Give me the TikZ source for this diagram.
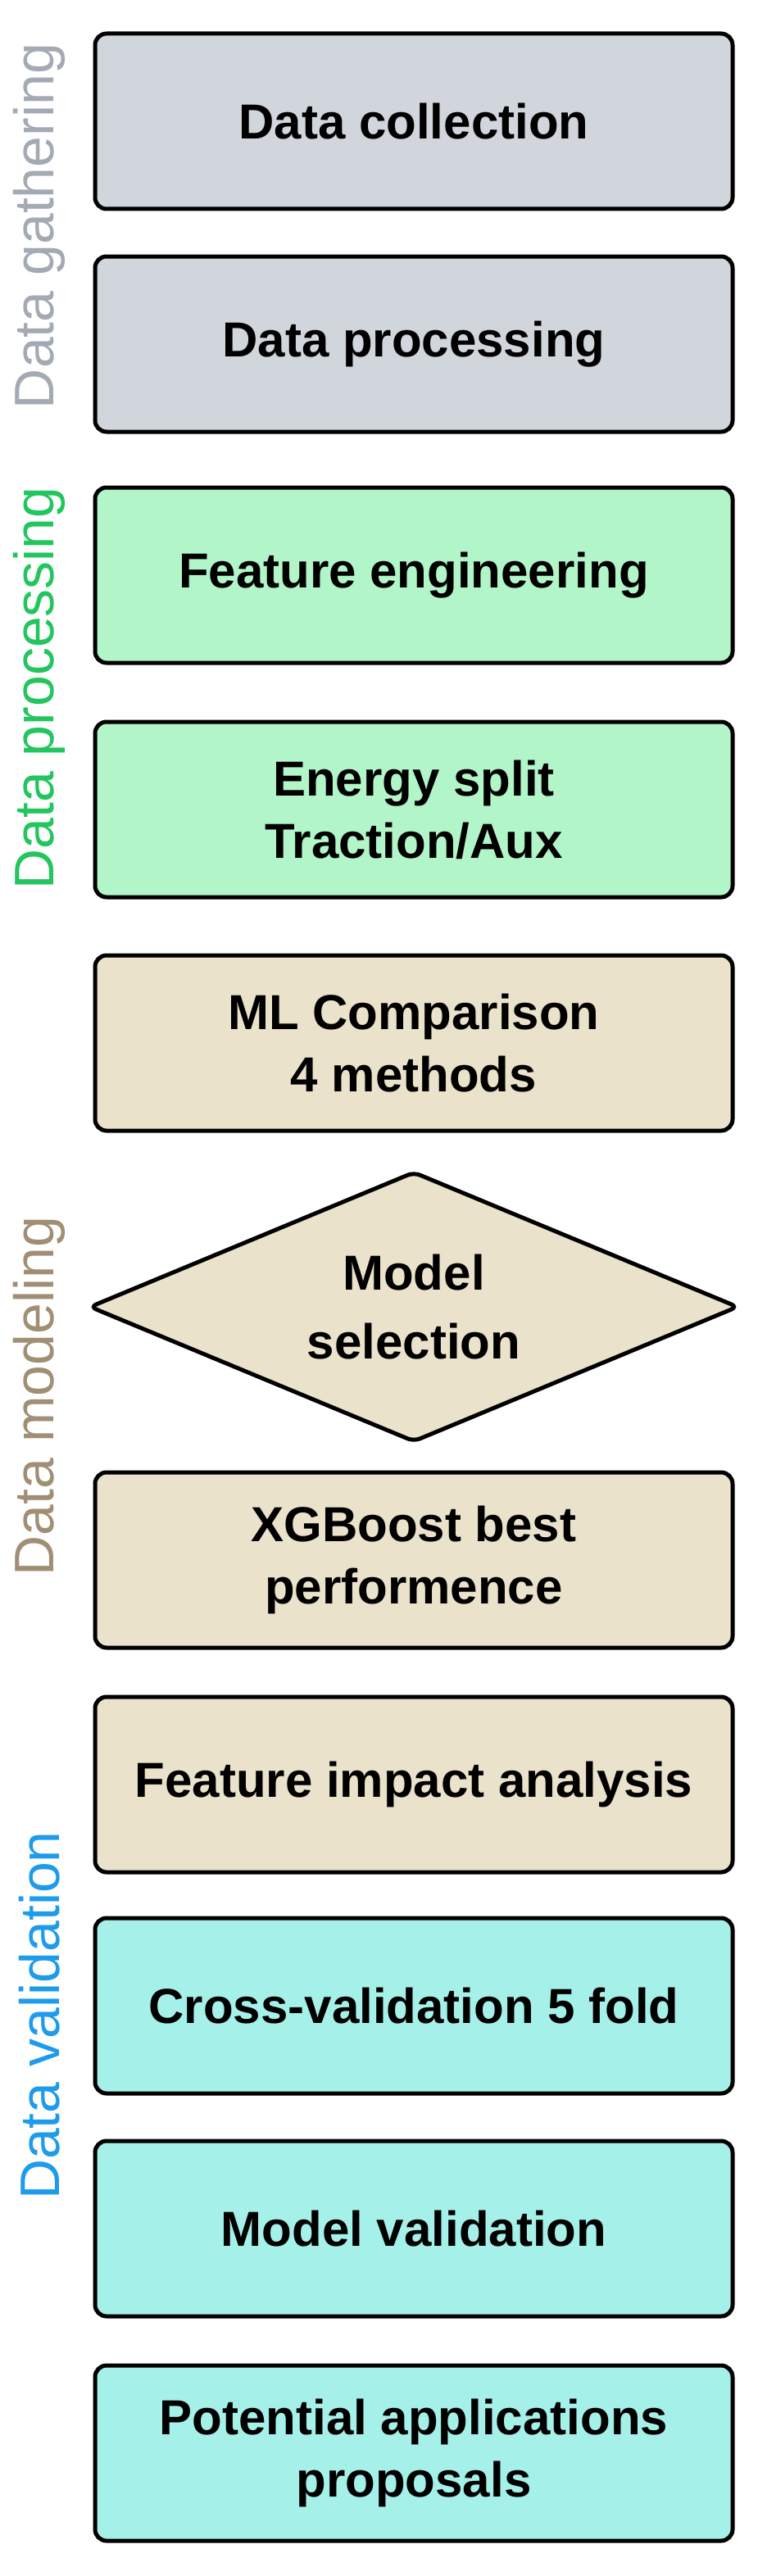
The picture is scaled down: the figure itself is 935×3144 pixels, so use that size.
\documentclass[tikz,border=0pt]{standalone}
\usepackage{fontspec}
\setmainfont{Liberation Sans}
\usetikzlibrary{shapes.geometric}
\definecolor{cgray}{HTML}{D1D5DC}
\definecolor{cgreen}{HTML}{B2F5C9}
\definecolor{ctan}{HTML}{EBE2CB}
\definecolor{ccyan}{HTML}{A6F0EA}
\definecolor{lgray}{HTML}{A3AAB3}
\definecolor{lgreen}{HTML}{22C55E}
\definecolor{ltan}{HTML}{A08F74}
\definecolor{lblue}{HTML}{1E9BEA}
\begin{document}
\begin{tikzpicture}[x=1pt,y=-1pt,
  box/.style={draw=black,line width=5pt,rounded corners=14pt,minimum width=778pt,minimum height=214pt,align=center,font=\fontsize{60}{76}\selectfont\bfseries,inner sep=0pt},
  dia/.style={draw=black,line width=5pt,diamond,aspect=2.4,minimum width=792pt,minimum height=330pt,align=center,font=\fontsize{60}{84}\selectfont\bfseries,inner sep=0pt,rounded corners=8pt},
  side/.style={rotate=90,font=\fontsize{68}{76}\selectfont,anchor=center}]
\useasboundingbox (0,0) rectangle (935,3144);
\node[box,fill=cgray] (a) at (505,148) {Data collection};
\node[box,fill=cgray] (b) at (505,420) {Data processing};
\node[box,fill=cgreen] (c) at (505,702) {Feature engineering};
\node[box,fill=cgreen] (d) at (505,988) {Energy split\\Traction/Aux};
\node[box,fill=ctan] (e) at (505,1273) {ML Comparison\\4 methods};
\node[dia,fill=ctan] (f) at (505,1595) {Model\\selection};
\node[box,fill=ctan] (g) at (505,1904) {XGBoost best\\performence};
\node[box,fill=ctan] (h) at (505,2178) {Feature impact analysis};
\node[box,fill=ccyan] (i) at (505,2448) {Cross-validation 5 fold};
\node[box,fill=ccyan] (j) at (505,2720) {Model validation};
\node[box,fill=ccyan] (k) at (505,2994) {Potential applications\\proposals};
\node[side,text=lgray] (s1) at (48,276) {Data gathering};
\node[side,text=lgreen] (s2) at (48,840) {Data processing};
\node[side,text=ltan] (s3) at (48,1704) {Data modeling};
\node[side,text=lblue] (s4) at (48,2460) {Data validation};
\end{tikzpicture}
\end{document}
